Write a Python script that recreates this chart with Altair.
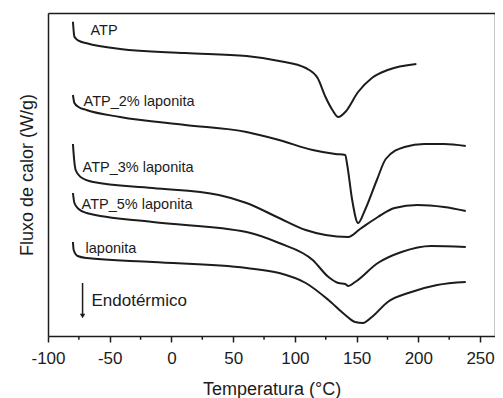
import altair as alt
import pandas as pd

FONT = "Liberation Sans"
INK = "#1c1c1c"

# Temperature (°C) and heat-flow (arbitrary, stacked) values
atp_t = [-79.8, -78.6, -75.2, -68.6, -41.6, 11.2, 60.8, 87.2, 108.8, 118.4, 124.8, 130.4, 135.2, 140.8, 151.2, 162.4, 175.2, 198.4]
atp_v = [314.3, 299.3, 295.3, 292.7, 287, 283, 280, 275, 268, 258, 239, 226, 219, 224, 244, 258, 266, 272]

atp2_t = [-79.8, -78.6, -75.2, -68.8, -41.6, 11.2, 60.8, 87.2, 114.4, 132.8, 140.8, 142.4, 146.4, 151.2, 156.8, 166.4, 173.6, 188.8, 204.8, 220.8, 238.4]
atp2_v = [241, 233, 229, 226, 219, 211, 204, 196, 186, 182, 181, 171, 136, 113, 126, 156, 177, 189, 192, 192, 190]

atp3_t = [-79.8, -78.8, -77.6, -73.6, -63.2, -15.2, 38.4, 60.8, 87.2, 108.8, 124.8, 143.2, 152.8, 167.2, 180.8, 199.2, 220.8, 238.4]
atp3_v = [192, 176, 166, 159, 154, 148, 141, 133, 118, 106, 101, 99, 107, 119, 128, 131, 129, 125]

atp5_t = [-79.8, -78.6, -75.2, -68.8, -15.2, 60.8, 87.2, 114.4, 127.2, 135.2, 140.8, 143.2, 148.8, 167.2, 186.4, 210.4, 238.4]
atp5_v = [143, 133, 127, 123, 114, 104, 93, 76, 59, 53, 52, 50, 54, 73, 84, 90, 89]

lap_t = [-79.8, -79.2, -76.0, -68.8, -15.2, 60.8, 87.2, 108.8, 127.2, 140.8, 148.8, 155.2, 162.4, 175.2, 194.4, 215.2, 238.4]
lap_v = [94, 86, 80, 78, 74, 68, 63, 53, 36, 21, 14, 13, 19, 34, 44, 51, 54]

series = [
    ("ATP", atp_t, atp_v),
    ("ATP_2% laponita", atp2_t, atp2_v),
    ("ATP_3% laponita", atp3_t, atp3_v),
    ("ATP_5% laponita", atp5_t, atp5_v),
    ("laponita", lap_t, lap_v),
]

label_text = ["ATP", "ATP_2% laponita", "ATP_3% laponita", "ATP_5% laponita", "laponita"]
label_t = [-65.6, -71.2, -72.0, -72.8, -69.6]
label_v = [305, 234, 168, 131, 87]

endo_text = ["Endotérmico"]
endo_t = [-64.8]
endo_v = [35]
arrow_t = [-72.0]
arrow_top = [53]
arrow_bottom = [20]

major_ticks = [-100, -50, 0, 50, 100, 150, 200, 250]
minor_ticks = [-75, -25, 25, 75, 125, 175, 225]
x_domain = [-100, 262.1]
y_domain = [0, 323]

W, H = 447, 323

rows = []
for name, ts, vs in series:
    for i, (t, v) in enumerate(zip(ts, vs)):
        rows.append({"series": name, "T": t, "v": v, "i": i})
df = pd.DataFrame(rows)

labels_df = pd.DataFrame({"text": label_text, "T": label_t, "v": label_v})
endo_df = pd.DataFrame({"text": endo_text, "T": endo_t, "v": endo_v})
arrow_df = pd.DataFrame({"T": arrow_t, "top": arrow_top, "bottom": arrow_bottom})
minor_df = pd.DataFrame({"T": minor_ticks, "y0": [y_domain[0]] * len(minor_ticks),
                         "y1": [y_domain[0] - 3.8] * len(minor_ticks)})

x_scale = alt.Scale(domain=x_domain, nice=False, zero=False)
y_scale = alt.Scale(domain=y_domain, nice=False, zero=False)


def xq(field):
    return alt.X(field, scale=x_scale, axis=None)


def yq(field):
    return alt.Y(field, scale=y_scale, axis=None)


lines = alt.Chart(df).mark_line(color=INK, strokeWidth=2, interpolate="monotone").encode(
    x=alt.X("T:Q", scale=x_scale,
            axis=alt.Axis(orient="bottom", values=major_ticks, title="Temperatura (°C)", grid=False,
                          domain=True, domainColor=INK, domainWidth=1.5,
                          tickSize=6, tickWidth=1.5, tickColor=INK, labelPadding=8,
                          labelExpr="(datum.value < 0 ? '-' : '') + abs(datum.value)",
                          labelFontSize=17, labelFont=FONT, labelColor=INK,
                          titleFontSize=18, titleFont=FONT, titleColor=INK, titleFontWeight="normal",
                          titlePadding=14, labelFlush=False, labelOverlap=False)),
    y=alt.Y("v:Q", scale=y_scale,
            axis=alt.Axis(orient="left", labels=False, ticks=False, grid=False,
                          domain=True, domainColor=INK, domainWidth=1.5,
                          title="Fluxo de calor (W/g)", titleFontSize=18, titleFont=FONT,
                          titleColor=INK, titleFontWeight="normal", titlePadding=12)),
    detail="series:N",
    order="i:Q",
)

# invisible layer whose top/right axis lines close the frame
frame = alt.Chart(df).mark_line(opacity=0).encode(
    x=alt.X("T:Q", scale=x_scale,
            axis=alt.Axis(orient="top", labels=False, ticks=False, grid=False, title=None,
                          domain=True, domainColor=INK, domainWidth=1.5)),
    y=alt.Y("v:Q", scale=y_scale,
            axis=alt.Axis(orient="right", labels=False, ticks=False, grid=False, title=None,
                          domain=True, domainColor=INK, domainWidth=1.5)),
    detail="series:N",
)

minor = alt.Chart(minor_df).mark_rule(color=INK, strokeWidth=1.5).encode(
    x=xq("T:Q"), y=yq("y0:Q"), y2="y1:Q"
)

labels = alt.Chart(labels_df).mark_text(align="left", baseline="middle", font=FONT, fontSize=14.5, color=INK).encode(
    x=xq("T:Q"), y=yq("v:Q"), text="text:N"
)

endo = alt.Chart(endo_df).mark_text(align="left", baseline="middle", font=FONT, fontSize=17, color=INK).encode(
    x=xq("T:Q"), y=yq("v:Q"), text="text:N"
)

arrow_line = alt.Chart(arrow_df).mark_rule(color=INK, strokeWidth=1.5).encode(
    x=xq("T:Q"), y=yq("top:Q"), y2="bottom:Q"
)
arrow_head = alt.Chart(arrow_df).mark_point(shape="triangle-down", filled=True, color=INK, size=30, opacity=1).encode(
    x=xq("T:Q"), y=yq("bottom:Q")
)

chart = alt.layer(lines, frame, minor, labels, endo, arrow_line, arrow_head).resolve_axis(
    x="independent", y="independent"
).properties(
    width=W, height=H,
    background="white",
    autosize=alt.AutoSizeParams(type="none"),
    padding={"left": 40, "top": 5, "right": 0, "bottom": 62},
)

chart.save("out.html", embed_options={"renderer": "svg", "actions": False})
